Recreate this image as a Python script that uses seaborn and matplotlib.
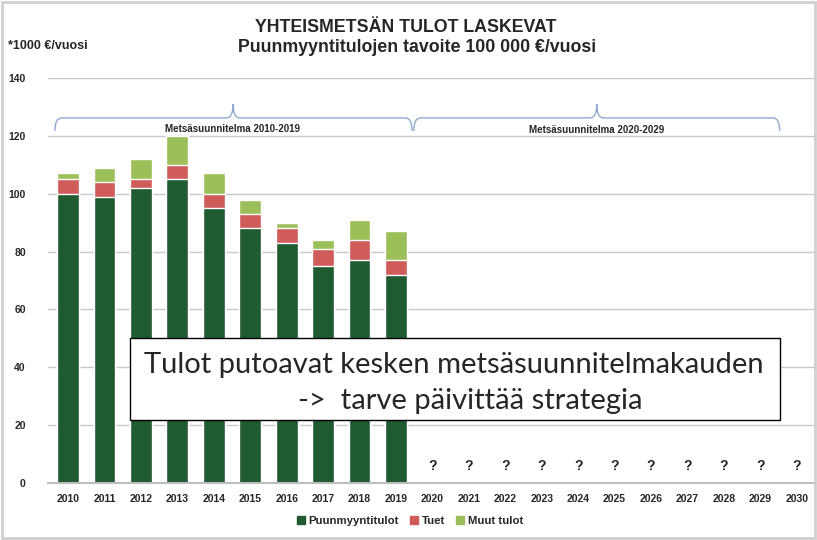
import matplotlib
matplotlib.use('Agg')
import matplotlib.pyplot as plt
from matplotlib.patches import Rectangle, Patch, PathPatch
from matplotlib.path import Path
import seaborn as sns
import pandas as pd

years = [str(y) for y in range(2010, 2031)]
plan_years = years[:10]
puun = [100, 99, 102, 105, 95, 88, 83, 75, 77, 72]
tuet = [5, 5, 3, 5, 5, 5, 5, 6, 7, 5]
muut = [2, 5, 7, 10, 7, 5, 2, 3, 7, 10]
unknown_years = years[10:]

c_puun = '#1f5a30'
c_tuet = '#cf5b5b'
c_muut = '#9dbf5a'

df = pd.DataFrame({'vuosi': plan_years, 'puun': puun, 'tuet': tuet, 'muut': muut})
df['puun_tuet'] = df['puun'] + df['tuet']
df['yht'] = df['puun_tuet'] + df['muut']

sns.set_style('white')
plt.rcParams['font.family'] = ['Liberation Sans Narrow', 'Liberation Sans', 'DejaVu Sans']

fig = plt.figure(figsize=(8.17, 5.4), dpi=100)
ax = fig.add_axes([48 / 817, 1 - 483 / 540, (815 - 48) / 817, (483 - 78) / 540])

# stacked bars: draw totals first, then cover with lower parts
sns.barplot(data=df, x='vuosi', y='yht', order=years, color=c_muut, saturation=1, width=0.6, ax=ax)
sns.barplot(data=df, x='vuosi', y='puun_tuet', order=years, color=c_tuet, saturation=1, width=0.6, ax=ax)
sns.barplot(data=df, x='vuosi', y='puun', order=years, color=c_puun, saturation=1, width=0.6, ax=ax)

ax.set_ylim(0, 140)
ax.set_xlim(-0.55, 20.5)
ax.set_yticks(range(0, 141, 20))
ax.yaxis.grid(True, color='#c9c9c9', lw=1)
ax.set_axisbelow(True)
for s in ['top', 'right', 'left']:
    ax.spines[s].set_visible(False)
ax.spines['bottom'].set_color('#bdbdbd')
ax.spines['bottom'].set_linewidth(1.5)
ax.set_xlabel('')
ax.set_ylabel('')
ax.tick_params(axis='both', length=0, labelsize=7.5)
ax.tick_params(axis='y', pad=16)
ax.tick_params(axis='x', pad=8)
for lab in ax.get_xticklabels() + ax.get_yticklabels():
    lab.set_fontweight('bold')

for y in unknown_years:
    ax.text(years.index(y), 6, '?', ha='center', va='center', fontsize=10, fontweight='bold')


def brace(x0, x1, xm, y_end, y_line, y_tip, dx=0.18):
    verts = [(x0, y_end), (x0, y_line), (x0 + dx, y_line),
             (xm - dx, y_line), (xm, y_line), (xm, y_tip),
             (xm, y_line), (xm + dx, y_line),
             (x1 - dx, y_line), (x1, y_line), (x1, y_end)]
    codes = [Path.MOVETO, Path.CURVE3, Path.CURVE3,
             Path.LINETO, Path.CURVE3, Path.CURVE3,
             Path.CURVE3, Path.CURVE3,
             Path.LINETO, Path.CURVE3, Path.CURVE3]
    ax.add_patch(PathPatch(Path(verts, codes), fill=False, ec='#8fa9d0', lw=1, clip_on=False))


brace(-0.36, 9.44, 4.53, 121.7, 126.2, 131)
brace(9.49, 19.53, 14.51, 121.7, 126.2, 131)
ax.text(4.5, 120.5, 'Metsäsuunnitelma 2010-2019', ha='center', va='bottom', fontsize=7, fontweight='bold')
ax.text(14.5, 120.3, 'Metsäsuunnitelma 2020-2029', ha='center', va='bottom', fontsize=7, fontweight='bold')

# message box
ax.add_patch(Rectangle((1.70, 21.8), 17.83, 28.3, fc='white', ec='black', lw=1, zorder=5))
ax.text(10.6, 40.8, 'Tulot putoavat kesken metsäsuunnitelmakauden', ha='center', va='center',
        fontsize=21, family=['Lato', 'DejaVu Sans'], zorder=6)
ax.text(11.03, 28.3, '->  tarve päivittää strategia', ha='center', va='center',
        fontsize=21, family=['Lato', 'DejaVu Sans'], zorder=6)

fig.text(406 / 817, 1 - 27 / 540, 'YHTEISMETSÄN TULOT LASKEVAT', ha='center', va='center',
         fontsize=12.8, fontweight='bold')
fig.text(417 / 817, 1 - 48 / 540, 'Puunmyyntitulojen tavoite 100 000 €/vuosi', ha='center', va='center',
         fontsize=12.8, fontweight='bold')
fig.text(8 / 817, 1 - 46 / 540, '*1000 €/vuosi', ha='left', va='center', fontsize=9, fontweight='bold')

handles = [Patch(color=c_puun, label='Puunmyyntitulot'),
           Patch(color=c_tuet, label='Tuet'),
           Patch(color=c_muut, label='Muut tulot')]
fig.legend(handles=handles, loc='center', bbox_to_anchor=(410 / 817, 1 - 521 / 540), ncol=3, frameon=False,
           prop={'size': 8.2, 'weight': 'bold'}, handlelength=0.7, handleheight=0.7,
           handletextpad=0.3, columnspacing=1.0)

fig.patches.append(Rectangle((0.003, 0.004), 0.994, 0.992, transform=fig.transFigure,
                             fill=False, ec='#cfcfcf', lw=2))

fig.savefig('out.png', dpi=100)
